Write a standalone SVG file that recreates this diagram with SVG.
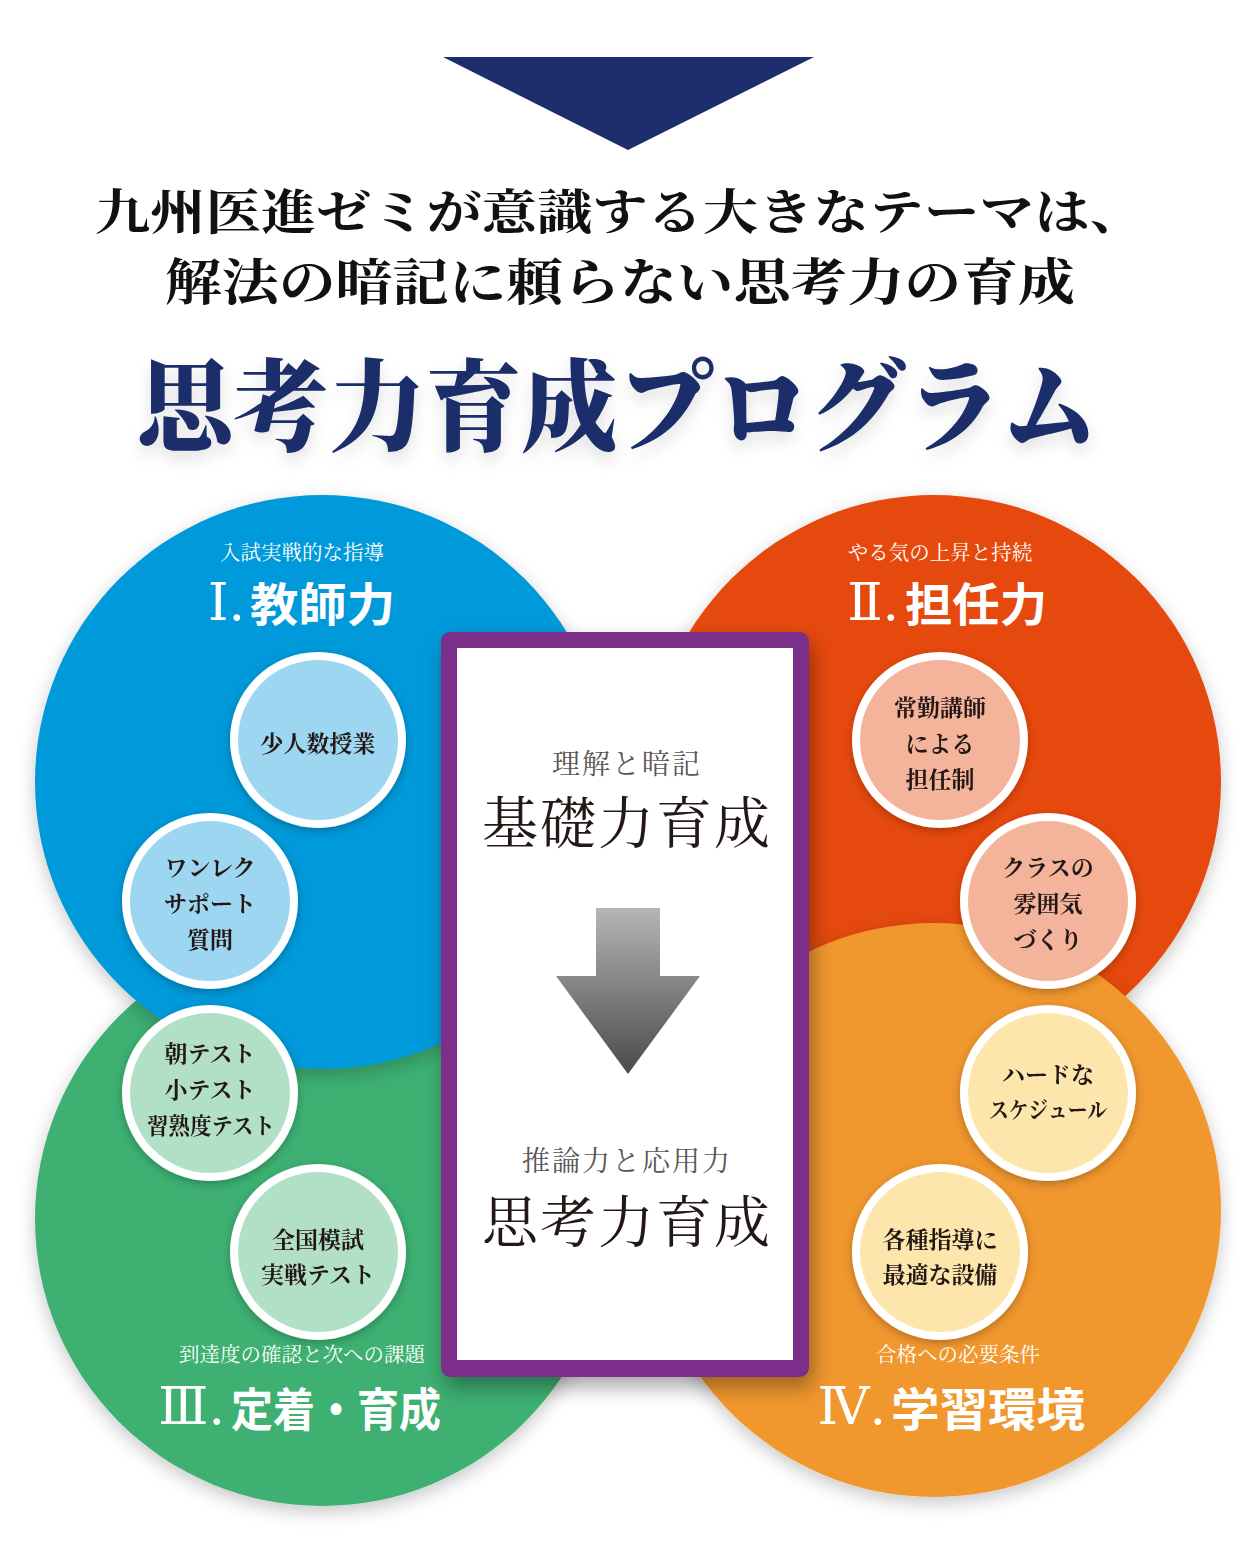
<svg xmlns="http://www.w3.org/2000/svg" width="1260" height="1552" viewBox="0 0 1260 1552">
<defs>
<style>
.mincho{font-family:"Noto Serif CJK JP","Noto Sans CJK JP",serif}
.gothic{font-family:"Noto Sans CJK JP",sans-serif}
.sub{font-size:20.5px;fill:#ffffff;text-anchor:middle}
.head{font-size:46px;fill:#ffffff;font-weight:700}
.roman{font-family:"DejaVu Serif","Liberation Serif","Noto Serif CJK JP",serif;font-weight:400;font-size:52px;fill:#ffffff;text-anchor:end}
.item{font-size:23px;fill:#231815;font-weight:700;text-anchor:middle;dominant-baseline:central}
.ring{stroke:#ffffff;stroke-width:8}
.boxsub{font-size:28px;fill:#595757;text-anchor:middle;dominant-baseline:central;letter-spacing:2px}
.boxmain{font-size:56px;fill:#231815;text-anchor:middle;dominant-baseline:central;letter-spacing:2px}
</style>
<filter id="bigShadow" x="-20%" y="-20%" width="140%" height="140%">
<feDropShadow dx="0" dy="6" stdDeviation="9" flood-color="#000" flood-opacity="0.22"/>
</filter>
<filter id="smallShadow" x="-20%" y="-20%" width="140%" height="140%">
<feDropShadow dx="0" dy="3" stdDeviation="4" flood-color="#000" flood-opacity="0.25"/>
</filter>
<filter id="boxShadow" x="-20%" y="-10%" width="140%" height="125%">
<feDropShadow dx="4" dy="10" stdDeviation="10" flood-color="#000" flood-opacity="0.35"/>
</filter>
<filter id="titleShadow" x="-5%" y="-20%" width="110%" height="160%">
<feDropShadow dx="0" dy="8" stdDeviation="8" flood-color="#000" flood-opacity="0.12"/>
</filter>
<linearGradient id="arrowGrad" x1="0" y1="0" x2="0" y2="1">
<stop offset="0" stop-color="#B5B5B6"/>
<stop offset="1" stop-color="#4A4A4A"/>
</linearGradient>
</defs>
<rect width="1260" height="1552" fill="#ffffff"/>

<g id="header">
<polygon points="443,57 814,57 628,150" fill="#1E2D6B"/>
<text x="620" y="229" class="mincho" font-size="48" font-weight="700" fill="#111111" text-anchor="middle" textLength="1050" lengthAdjust="spacingAndGlyphs">九州医進ゼミが意識する大きなテーマは、</text>
<text x="620" y="300" class="mincho" font-size="50" font-weight="700" fill="#111111" text-anchor="middle" textLength="910" lengthAdjust="spacingAndGlyphs">解法の暗記に頼らない思考力の育成</text>
<text x="617" y="443" class="mincho" font-size="100" font-weight="900" fill="#1E2D6B" text-anchor="middle" textLength="960" lengthAdjust="spacingAndGlyphs" filter="url(#titleShadow)">思考力育成プログラム</text>
</g>

<g id="circle-green">
<circle cx="322" cy="1219" r="287" fill="#3EB072" filter="url(#bigShadow)"/>
<text x="302" y="1362" class="mincho sub">到達度の確認と次への課題</text>
<text x="225" y="1424" class="roman">Ⅲ.</text>
<text x="231" y="1426" class="gothic head" textLength="210" lengthAdjust="spacingAndGlyphs">定着・育成</text>
</g>
<g id="circle-blue">
<circle cx="322" cy="782" r="287" fill="#0299D9" filter="url(#bigShadow)"/>
<text x="302" y="560" class="mincho sub">入試実戦的な指導</text>
<text x="245" y="620" class="roman">Ⅰ.</text>
<text x="250" y="621" class="gothic head" textLength="145" lengthAdjust="spacingAndGlyphs">教師力</text>
</g>
<g id="circle-red">
<circle cx="934" cy="782" r="287" fill="#E6480C" filter="url(#bigShadow)"/>
<text x="940" y="560" class="mincho sub">やる気の上昇と持続</text>
<text x="899" y="620" class="roman">Ⅱ.</text>
<text x="905" y="621" class="gothic head" textLength="142" lengthAdjust="spacingAndGlyphs">担任力</text>
</g>
<g id="circle-orange">
<circle cx="934" cy="1210" r="287" fill="#F0972F" filter="url(#bigShadow)"/>
<text x="958" y="1362" class="mincho sub">合格への必要条件</text>
<text x="886" y="1424" class="roman">Ⅳ.</text>
<text x="891" y="1426" class="gothic head" textLength="194" lengthAdjust="spacingAndGlyphs">学習環境</text>
</g>

<g id="node-shouninzu" filter="url(#smallShadow)">
<circle cx="318" cy="740" r="84" fill="#9DD6F1" class="ring"/>
<text x="318" y="742" class="mincho item">少人数授業</text>
</g>
<g id="node-wanrek" filter="url(#smallShadow)">
<circle cx="210" cy="901" r="84" fill="#9DD6F1" class="ring"/>
<text x="210" y="866" class="mincho item">ワンレク</text>
<text x="210" y="902" class="mincho item">サポート</text>
<text x="210" y="938" class="mincho item">質問</text>
</g>
<g id="node-asatest" filter="url(#smallShadow)">
<circle cx="210" cy="1093" r="84" fill="#B2E0C7" class="ring"/>
<text x="210" y="1052" class="mincho item">朝テスト</text>
<text x="210" y="1088" class="mincho item">小テスト</text>
<text x="211" y="1124" class="mincho item" textLength="128" lengthAdjust="spacingAndGlyphs">習熟度テスト</text>
</g>
<g id="node-zenkoku" filter="url(#smallShadow)">
<circle cx="318" cy="1252" r="84" fill="#B2E0C7" class="ring"/>
<text x="318" y="1238" class="mincho item">全国模試</text>
<text x="318" y="1273" class="mincho item">実戦テスト</text>
</g>
<g id="node-joukin" filter="url(#smallShadow)">
<circle cx="940" cy="740" r="84" fill="#F4B49C" class="ring"/>
<text x="940" y="706" class="mincho item">常勤講師</text>
<text x="940" y="742" class="mincho item">による</text>
<text x="940" y="778" class="mincho item">担任制</text>
</g>
<g id="node-class" filter="url(#smallShadow)">
<circle cx="1048" cy="901" r="84" fill="#F4B49C" class="ring"/>
<text x="1048" y="866" class="mincho item">クラスの</text>
<text x="1048" y="902" class="mincho item">雰囲気</text>
<text x="1048" y="938" class="mincho item">づくり</text>
</g>
<g id="node-hard" filter="url(#smallShadow)">
<circle cx="1048" cy="1093" r="84" fill="#FDE6AC" class="ring"/>
<text x="1048" y="1073" class="mincho item">ハードな</text>
<text x="1048" y="1108" class="mincho item" textLength="118" lengthAdjust="spacingAndGlyphs">スケジュール</text>
</g>
<g id="node-setsubi" filter="url(#smallShadow)">
<circle cx="940" cy="1252" r="84" fill="#FDE6AC" class="ring"/>
<text x="940" y="1238" class="mincho item">各種指導に</text>
<text x="940" y="1273" class="mincho item">最適な設備</text>
</g>

<g id="center-box">
<rect x="441" y="632" width="368" height="745" rx="9" fill="#7B2D8B" filter="url(#boxShadow)"/>
<rect x="457" y="648" width="336" height="712" fill="#ffffff"/>
<text x="627" y="762" class="mincho boxsub">理解と暗記</text>
<text x="627" y="819" class="mincho boxmain">基礎力育成</text>
<text x="627" y="1159" class="mincho boxsub">推論力と応用力</text>
<text x="627" y="1218" class="mincho boxmain">思考力育成</text>
</g>

<g id="connectors">
<polygon points="596,908 660,908 660,976 700,976 628,1074 556,976 596,976" fill="url(#arrowGrad)"/>
</g>
</svg>
